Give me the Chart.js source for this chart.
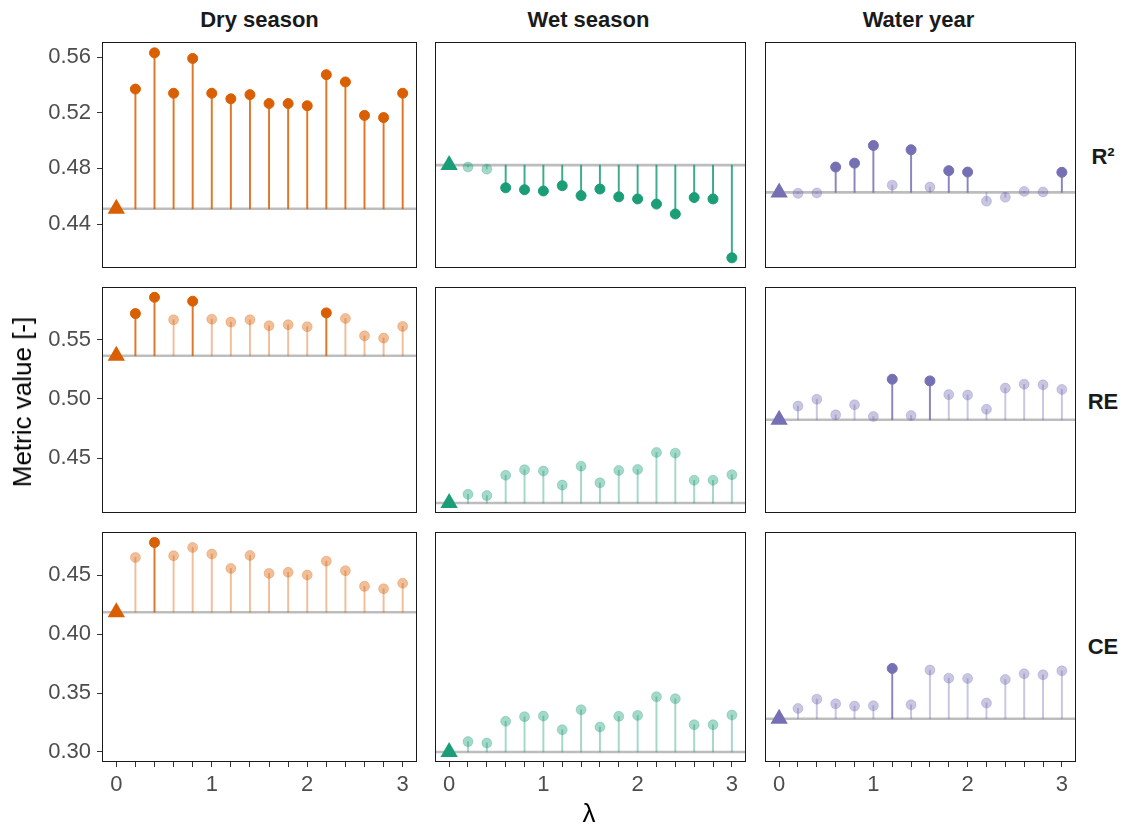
<!DOCTYPE html>
<html>
<head>
<meta charset="utf-8">
<script src="https://cdn.jsdelivr.net/npm/chart.js@4.4.0/dist/chart.umd.min.js"></script>
<style>
  body { margin:0; background:#fff; width:1123px; height:827px; position:relative; overflow:hidden;
         font-family:"Liberation Sans", Arial, sans-serif; }
  canvas { position:absolute; }
  .lbl { position:absolute; white-space:nowrap; line-height:22px; color:#1a1a1a; }
  .col { font-weight:bold; font-size:22px; top:9px; transform:translateX(-50%); }
  .row { font-weight:bold; font-size:22px; left:1103px; transform:translate(-50%,-50%); }
  .ytitle { font-size:26px; left:22px; top:402px; transform:translate(-50%,-50%) rotate(-90deg); line-height:26px; color:#000; }
  .xtitle { font-size:26px; left:589px; top:813px; transform:translate(-50%,-50%); line-height:26px; color:#000; }
</style>
</head>
<body>
<script>
// lambda values for the lollipops (0 is the reference run)
const lambdas = [0.2, 0.4, 0.6, 0.8, 1.0, 1.2, 1.4, 1.6, 1.8, 2.0, 2.2, 2.4, 2.6, 2.8, 3.0];
const xTicks = [0, 0.2, 0.4, 0.6, 0.8, 1.0, 1.2, 1.4, 1.6, 1.8, 2.0, 2.2, 2.4, 2.6, 2.8, 3.0];
const seasons = ['Dry season', 'Wet season', 'Water year'];
const metrics = ['R²', 'RE', 'CE'];
const seasonColors = ['#D95F02', '#1B9E77', '#7570B3'];

// y tick labels per metric row
const r2Ticks = [0.44, 0.48, 0.52, 0.56];
const reTicks = [0.45, 0.50, 0.55];
const ceTicks = [0.30, 0.35, 0.40, 0.45];

// reference values at lambda = 0 (dry, wet, water year)
const r2Base = [0.451, 0.4824, 0.4628];
const reBase = [0.5365, 0.4119, 0.4823];
const ceBase = [0.4184, 0.3000, 0.3282];

// R2
const r2Dry  = [0.537, 0.563, 0.534, 0.559, 0.534, 0.530, 0.533, 0.5266, 0.5266, 0.525, 0.5473, 0.5421, 0.5181, 0.5165, 0.534];
const r2Wet  = [0.481, 0.4795, 0.4661, 0.4647, 0.4638, 0.4676, 0.4605, 0.4652, 0.4596, 0.4581, 0.4544, 0.4473, 0.4591, 0.4581, 0.4158];
const r2Year = [0.4621, 0.4624, 0.4810, 0.4838, 0.4965, 0.4680, 0.4934, 0.4666, 0.4784, 0.4774, 0.4565, 0.4593, 0.4635, 0.4631, 0.4772];
// RE
const reDry  = [0.5721, 0.5859, 0.5669, 0.5826, 0.5674, 0.5649, 0.5669, 0.5619, 0.5627, 0.5610, 0.5727, 0.5680, 0.5533, 0.5514, 0.5613];
const reWet  = [0.4193, 0.4182, 0.4354, 0.4401, 0.4390, 0.4271, 0.4431, 0.4290, 0.4395, 0.4403, 0.4547, 0.4541, 0.4312, 0.4312, 0.4359];
const reYear = [0.4939, 0.4997, 0.4865, 0.4950, 0.4851, 0.5166, 0.4859, 0.5152, 0.5036, 0.5033, 0.4912, 0.5091, 0.5124, 0.5119, 0.5080];
// CE
const ceDry  = [0.4649, 0.4776, 0.4664, 0.4734, 0.4678, 0.4556, 0.4666, 0.4514, 0.4523, 0.4500, 0.4618, 0.4537, 0.4404, 0.4384, 0.4430];
const ceWet  = [0.3088, 0.3076, 0.3260, 0.3299, 0.3305, 0.3189, 0.3358, 0.3212, 0.3302, 0.3310, 0.3468, 0.3451, 0.3231, 0.3231, 0.3313];
const ceYear = [0.3369, 0.3448, 0.3409, 0.3389, 0.3392, 0.3708, 0.3400, 0.3694, 0.3626, 0.3623, 0.3415, 0.3615, 0.3663, 0.3654, 0.3688];

// significant improvement flags (1 = solid, 0 = faded)
const r2DrySig  = [1,1,1,1,1,1,1,1,1,1,1,1,1,1,1];
const r2WetSig  = [0,0,1,1,1,1,1,1,1,1,1,1,1,1,1];
const r2YearSig = [0,0,1,1,1,0,1,0,1,1,0,0,0,0,1];
const reDrySig  = [1,1,0,1,0,0,0,0,0,0,1,0,0,0,0];
const reWetSig  = [0,0,0,0,0,0,0,0,0,0,0,0,0,0,0];
const reYearSig = [0,0,0,0,0,1,0,1,0,0,0,0,0,0,0];
const ceDrySig  = [0,1,0,0,0,0,0,0,0,0,0,0,0,0,0];
const ceWetSig  = [0,0,0,0,0,0,0,0,0,0,0,0,0,0,0];
const ceYearSig = [0,0,0,0,0,1,0,0,0,0,0,0,0,0,0];

const xRange = [-0.15, 3.15];
const yRanges = [[0.4085, 0.5708], [0.4035, 0.5946], [0.2915, 0.4865]];

const rows = [
  { ticks: r2Ticks, base: r2Base, vals: [r2Dry, r2Wet, r2Year], sig: [r2DrySig, r2WetSig, r2YearSig] },
  { ticks: reTicks, base: reBase, vals: [reDry, reWet, reYear], sig: [reDrySig, reWetSig, reYearSig] },
  { ticks: ceTicks, base: ceBase, vals: [ceDry, ceWet, ceYear], sig: [ceDrySig, ceWetSig, ceYearSig] }
];

// panel geometry
const colLeft = [102, 431, 761];
const rowTop = [42, 287, 532];
const panelW = 315, panelH = 230;
const FONT = "'Liberation Sans', Arial, sans-serif";

function rgba(hex, a) {
  const n = parseInt(hex.slice(1), 16);
  return `rgba(${(n >> 16) & 255},${(n >> 8) & 255},${n & 255},${a})`;
}

const framePlugin = {
  id: 'frame',
  afterDraw(chart) {
    const a = chart.chartArea, ctx = chart.ctx;
    ctx.save();
    ctx.strokeStyle = '#1a1a1a';
    ctx.lineWidth = 1;
    ctx.strokeRect(Math.round(a.left) + 0.5, Math.round(a.top) + 0.5,
                   Math.round(a.right - a.left) - 1, Math.round(a.bottom - a.top) - 1);
    ctx.restore();
  }
};

function makePanel(r, c) {
  const row = rows[r];
  const base = row.base[c];
  const vals = row.vals[c];
  const sig = row.sig[c];
  const col = seasonColors[c];
  const padL = c === 0 ? 72 : 4;
  const padB = r === 2 ? 42 : 4;

  const cv = document.createElement('canvas');
  cv.width = panelW + padL + 4;
  cv.height = panelH + padB + 4;
  cv.style.left = (colLeft[c] - padL) + 'px';
  cv.style.top = (rowTop[r] - 4) + 'px';
  document.body.appendChild(cv);

  new Chart(cv, {
    type: 'scatter',
    data: {
      datasets: [
        { // reference run
          type: 'scatter', order: 0,
          data: [{ x: 0, y: base }],
          pointStyle: 'triangle', pointRadius: 10, pointHoverRadius: 10,
          backgroundColor: col, borderColor: col, borderWidth: 0
        },
        { // lollipop heads
          type: 'scatter', order: 1,
          data: vals.map((v, i) => ({ x: lambdas[i], y: v })),
          pointRadius: 5, pointHoverRadius: 5,
          backgroundColor: sig.map(s => s ? col : rgba(col, 0.4)),
          borderColor: sig.map(s => s ? col : rgba(col, 0.25)),
          borderWidth: 1
        },
        { // stems
          type: 'bar', order: 2,
          data: vals.map((v, i) => ({ x: lambdas[i], y: [base, v] })),
          backgroundColor: sig.map(s => rgba(col, s ? 0.85 : 0.4)),
          borderWidth: 0, barThickness: 1.3
        },
        { // reference line
          type: 'line', order: 3,
          data: [{ x: xRange[0], y: base }, { x: xRange[1], y: base }],
          borderColor: '#BDBDBD', borderWidth: 2.6, pointRadius: 0, fill: false
        }
      ]
    },
    options: {
      responsive: false,
      animation: false,
      devicePixelRatio: 1,
      layout: {
        autoPadding: false,
        padding: { top: 4, right: 4, left: c === 0 ? 0 : 4, bottom: r === 2 ? 0 : 4 }
      },
      plugins: { legend: { display: false }, tooltip: { enabled: false } },
      scales: {
        x: {
          type: 'linear', min: xRange[0], max: xRange[1],
          offset: false,
          display: r === 2,
          afterBuildTicks: s => { s.ticks = xTicks.map(v => ({ value: v })); },
          afterFit: s => { s.height = padB; s.paddingLeft = 0; s.paddingRight = 0; },
          grid: { offset: false, drawOnChartArea: false, drawTicks: true, tickLength: 5, color: '#333333' },
          border: { display: false },
          ticks: {
            autoSkip: false, maxRotation: 0, padding: 5, color: '#4D4D4D',
            font: { size: 22, family: FONT },
            callback: v => Math.abs(v - Math.round(v)) < 1e-6 ? String(Math.round(v)) : ''
          }
        },
        y: {
          type: 'linear', min: yRanges[r][0], max: yRanges[r][1],
          display: c === 0,
          afterBuildTicks: s => { s.ticks = row.ticks.map(v => ({ value: v })); },
          afterFit: s => { s.width = padL; s.paddingTop = 0; s.paddingBottom = 0; },
          grid: { drawOnChartArea: false, drawTicks: true, tickLength: 5, color: '#333333' },
          border: { display: false },
          ticks: {
            padding: 6, color: '#4D4D4D',
            font: { size: 22, family: FONT },
            callback: v => Number(v).toFixed(2)
          }
        }
      }
    },
    plugins: [framePlugin]
  });
}

for (let r = 0; r < 3; r++) for (let c = 0; c < 3; c++) makePanel(r, c);

// facet strips and axis titles
seasons.forEach((s, c) => {
  const d = document.createElement('div');
  d.className = 'lbl col';
  d.textContent = s;
  d.style.left = (colLeft[c] + panelW / 2) + 'px';
  document.body.appendChild(d);
});
metrics.forEach((m, r) => {
  const d = document.createElement('div');
  d.className = 'lbl row';
  d.textContent = m;
  d.style.top = (rowTop[r] + panelH / 2) + 'px';
  document.body.appendChild(d);
});
const yt = document.createElement('div');
yt.className = 'lbl ytitle';
yt.textContent = 'Metric value [-]';
document.body.appendChild(yt);
const xt = document.createElement('div');
xt.className = 'lbl xtitle';
xt.textContent = 'λ';
document.body.appendChild(xt);
</script>
</body>
</html>
